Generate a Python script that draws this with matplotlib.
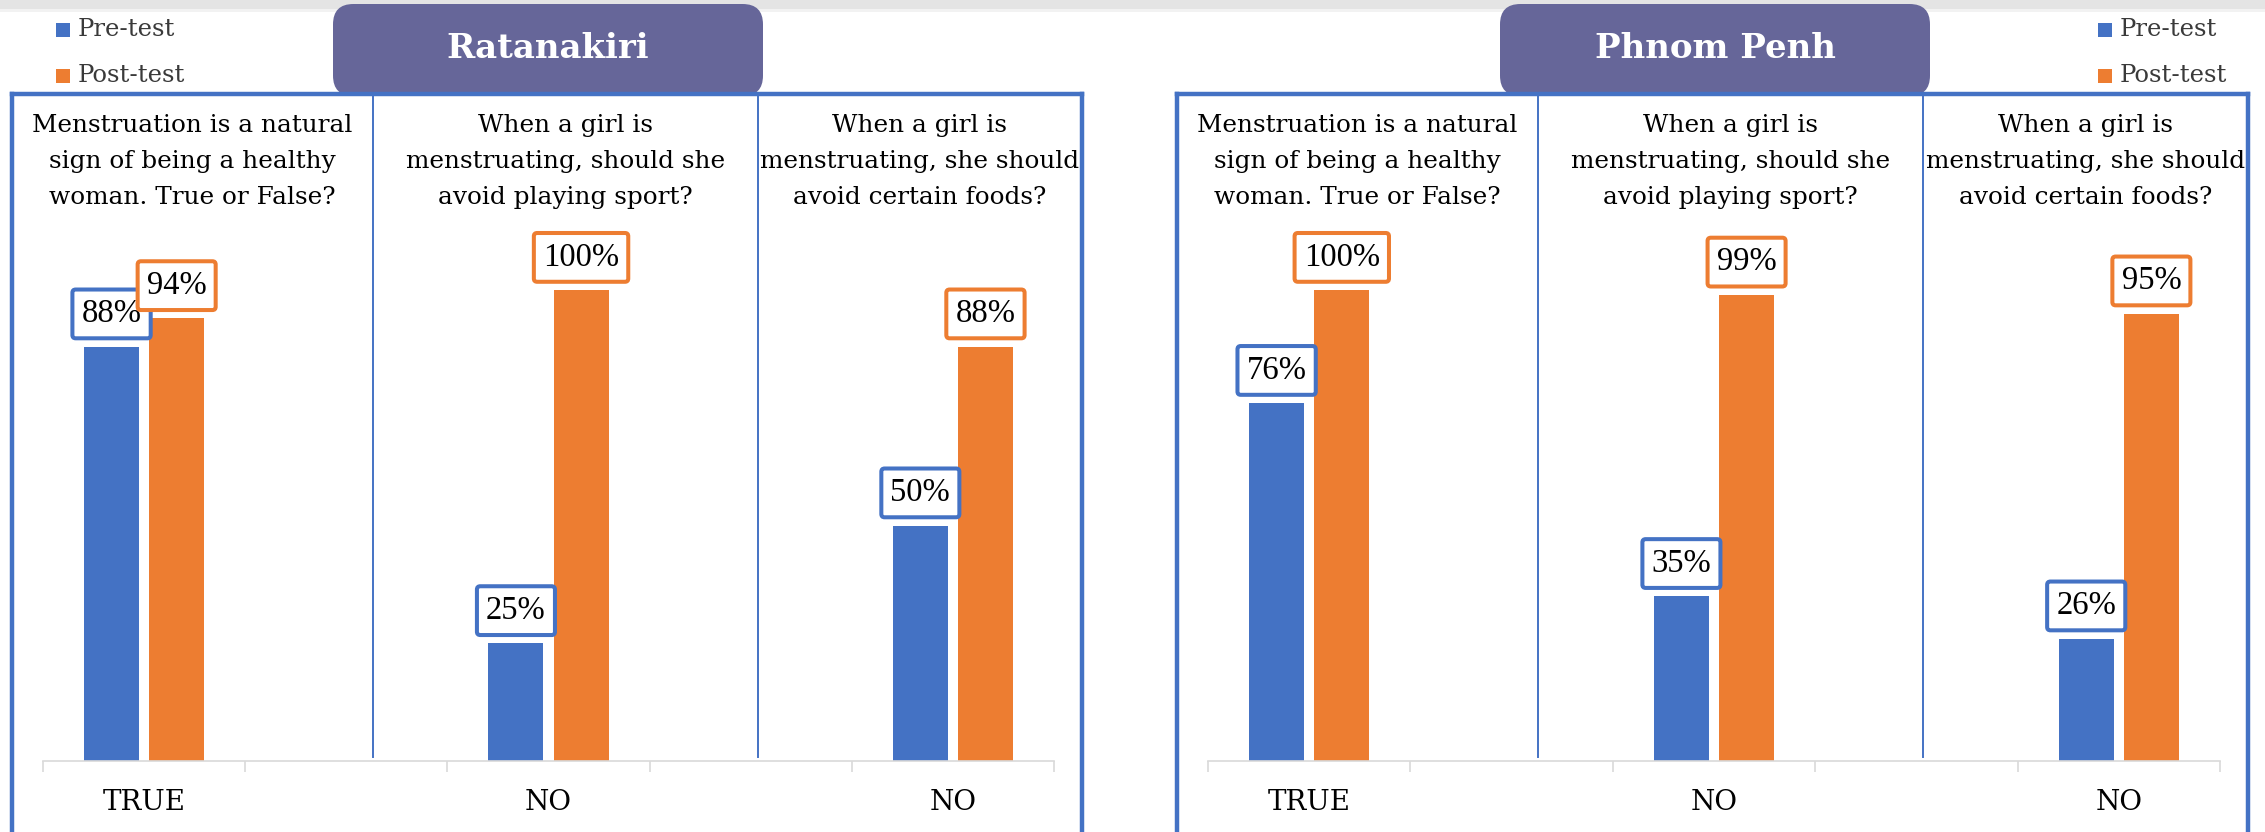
import matplotlib
matplotlib.use('Agg')
import matplotlib.pyplot as plt
import numpy as np
from matplotlib.patches import FancyBboxPatch, Rectangle
from matplotlib.lines import Line2D

# datos del grafico
categories = ['TRUE', '', 'NO', '', 'NO']
questions = ['Menstruation is a natural\nsign of being a healthy\nwoman. True or False?',
             'When a girl is\nmenstruating, should she\navoid playing sport?',
             'When a girl is\nmenstruating, she should\navoid certain foods?']
regions = ['Ratanakiri', 'Phnom Penh']
series = ['Pre-test', 'Post-test']
rat_pre = [88, np.nan, 25, np.nan, 50]
rat_post = [94, np.nan, 100, np.nan, 88]
pp_pre = [76, np.nan, 35, np.nan, 26]
pp_post = [100, np.nan, 99, np.nan, 95]

BLUE = '#4472C4'
ORANGE = '#ED7D31'
TITLE_BG = '#666699'
GRID = '#D9D9D9'
SERIF = 'DejaVu Serif'
NUMS = 'Liberation Serif'

W, H = 2265, 832
fig = plt.figure(figsize=(W / 100, H / 100), dpi=100)
fig.patch.set_facecolor('white')

def fx(x):
    return x / W

def fy(y):
    return 1 - y / H

# franja gris de la captura
fig.patches.append(Rectangle((0, fy(9)), 1, 9 / H, transform=fig.transFigure,
                             facecolor='#E4E4E4', edgecolor='none', zorder=0))
fig.patches.append(Rectangle((0, fy(12)), 1, 3 / H, transform=fig.transFigure,
                             facecolor='#F2F2F2', edgecolor='none', zorder=0))

# layout de cada panel: borde, divisores, eje, titulo, leyenda
panels = [
    dict(left=12, right=1082, divs=[373, 758], ax=(43, 1054), title=(333, 763),
         legend_x=56, pre=rat_pre, post=rat_post),
    dict(left=1177, right=2248, divs=[1538, 1923], ax=(1208, 2220), title=(1500, 1930),
         legend_x=2098, pre=pp_pre, post=pp_post),
]

for i, p in enumerate(panels):
    # caja del titulo
    t0, t1 = p['title']
    box = FancyBboxPatch((fx(t0), fy(96)), fx(t1 - t0), (96 - 4) / H,
                         boxstyle='round,pad=0,rounding_size=0.009',
                         mutation_aspect=W / H,
                         transform=fig.transFigure, facecolor=TITLE_BG,
                         edgecolor='none', zorder=1)
    fig.patches.append(box)
    fig.text(fx((t0 + t1) / 2), fy(49), regions[i], color='white', fontsize=24.5,
             fontweight='bold', family=SERIF, ha='center', va='center', zorder=2)

    # borde azul del panel
    L, R = p['left'], p['right']
    for xs, ys in [([L, L], [94, 840]), ([L, R], [94, 94]), ([R, R], [94, 840])]:
        fig.lines.append(Line2D([fx(x) for x in xs], [fy(y) for y in ys],
                                transform=fig.transFigure, color=BLUE, lw=3.2,
                                solid_capstyle='projecting', zorder=3))
    for d in p['divs']:
        fig.lines.append(Line2D([fx(d), fx(d)], [fy(94), fy(757)], transform=fig.transFigure,
                                color=BLUE, lw=1.4, zorder=3))

    # preguntas
    bounds = [L] + p['divs'] + [R]
    for k, q in enumerate(questions):
        cx = (bounds[k] + bounds[k + 1]) / 2
        fig.text(fx(cx), fy(114), q, fontsize=17.8, family=SERIF, ha='center', va='top',
                 linespacing=1.72, color='black')

    # leyenda
    lx = p['legend_x']
    for j, (name, col) in enumerate(zip(series, [BLUE, ORANGE])):
        yc = 30 + j * 46
        fig.patches.append(Rectangle((fx(lx), fy(yc + 7)), 14 / W, 14 / H,
                                     transform=fig.transFigure, facecolor=col,
                                     edgecolor='none'))
        fig.text(fx(lx + 22), fy(yc), name, fontsize=17.5, family=SERIF, color='#3A3A3A',
                 ha='left', va='center')

    # barras
    a0, a1 = p['ax']
    ax = fig.add_axes([fx(a0), fy(761), fx(a1 - a0), (761 - 290) / H])
    ax.patch.set_visible(False)
    x = np.arange(len(categories))
    off, bw = 0.161, 0.272
    for vals, col, dx in [(p['pre'], BLUE, -off), (p['post'], ORANGE, off)]:
        ax.bar(x + dx, vals, width=bw, color=col, zorder=2)
        for xi, v in zip(x, vals):
            if np.isnan(v):
                continue
            ax.annotate(f'{v:.0f}%', (xi + dx, v), xytext=(0, 12.5), textcoords='offset points',
                        ha='center', va='bottom', fontsize=23.5, family=NUMS,
                        annotation_clip=False, zorder=4,
                        bbox=dict(boxstyle='round,pad=0.28,rounding_size=0.1',
                                  facecolor='white', edgecolor=col, linewidth=2.9))
    ax.set_xlim(-0.5, len(categories) - 0.5)
    ax.set_ylim(0, 100)
    for s in ['top', 'left', 'right']:
        ax.spines[s].set_visible(False)
    ax.spines['bottom'].set_color(GRID)
    ax.spines['bottom'].set_linewidth(1.2)
    ax.set_yticks([])
    ax.set_xticks(x)
    ax.set_xticklabels(categories, fontsize=20, family=SERIF)
    ax.set_xticks(np.arange(-0.5, len(categories)), minor=True)
    ax.tick_params(axis='x', which='major', length=0, pad=20)
    ax.tick_params(axis='x', which='minor', length=8, width=1.2, color=GRID)

fig.savefig('out.png', dpi=100)
